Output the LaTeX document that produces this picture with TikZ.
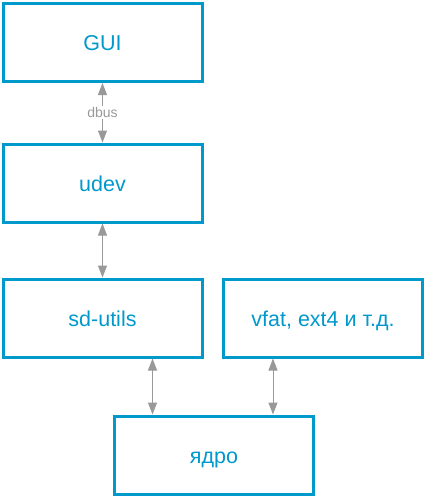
\documentclass[tikz,border=0pt]{standalone}
\usepackage{fontspec}
\setmainfont{Liberation Sans}
\usepackage{tikz}
\usetikzlibrary{arrows.meta, calc}
\usepackage{xcolor}
\definecolor{boxblue}{HTML}{0099CC}
\definecolor{linkgray}{HTML}{999999}

\begin{document}
\begin{tikzpicture}[
    x=1pt, y=-1pt,
    box/.style={
        rectangle,
        draw=boxblue,
        line width=3pt,
        fill=white,
        text=boxblue,
        minimum width=199pt,
        minimum height=78pt,
        inner sep=0pt,
        text height=16pt,
        text depth=0pt,
        font=\fontsize{21.5}{25}\selectfont
    },
    link/.style={
        {Triangle[length=12pt, width=9pt]}-{Triangle[length=12pt, width=9pt]},
        line width=1pt,
        color=linkgray
    },
    tag/.style={
        fill=white,
        text=linkgray,
        inner sep=1.5pt,
        font=\fontsize{14}{16}\selectfont
    }
]

\useasboundingbox (0,0) rectangle (426,499);

\node[box] (gui)     at (102.5, 42.5) {GUI};
\node[box] (udev)    at (102.5, 183)  {udev};
\node[box] (sdutils) at (102.5, 318)  {sd-utils};
\node[box] (vfat)    at (323, 318)    {vfat, ext4 и т.д.};
\node[box] (kernel)  at (214, 455)    {ядро};

\draw[link] (gui) -- node[tag] {dbus} (udev);
\draw[link] (udev) -- (sdutils);
\draw[link] ([xshift=50pt]sdutils.south) -- ([xshift=50pt]sdutils.south |- kernel.north);
\draw[link] ([xshift=-50pt]vfat.south) -- ([xshift=-50pt]vfat.south |- kernel.north);

\end{tikzpicture}
\end{document}
